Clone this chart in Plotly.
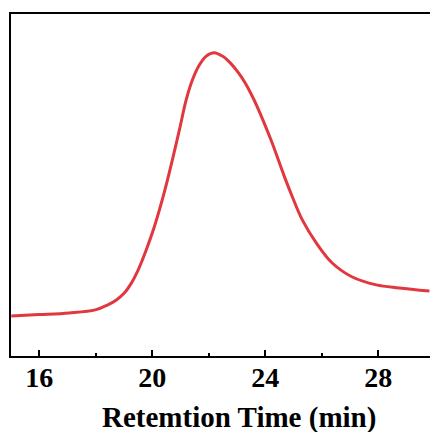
import plotly.graph_objects as go

# Retention time (min) and normalized detector response
retention_time = [15.01, 16.0, 17.06, 17.98, 18.41, 18.73, 19.01, 19.26, 19.47, 19.65,
                  19.86, 20.07, 20.42, 20.71, 20.96, 21.20, 21.42, 21.66, 21.91, 22.19,
                  22.48, 22.76, 23.04, 23.29, 23.50, 23.72, 24.21, 24.67, 24.96, 25.31,
                  25.81, 26.37, 27.08, 27.93, 28.74, 29.81]
response = [0.117, 0.121, 0.126, 0.135, 0.149, 0.164, 0.184, 0.213, 0.246, 0.281,
            0.327, 0.377, 0.477, 0.573, 0.661, 0.749, 0.807, 0.850, 0.877, 0.887,
            0.877, 0.857, 0.829, 0.798, 0.766, 0.728, 0.630, 0.526, 0.465, 0.398,
            0.330, 0.272, 0.231, 0.208, 0.199, 0.190]

tick_vals = [16, 20, 24, 28]
tick_text = ["16", "20", "24", "28"]
x_title = "Retemtion Time (min)"

fig = go.Figure()
fig.add_trace(go.Scatter(
    x=retention_time, y=response, mode="lines",
    line=dict(color="#e0383e", width=3, shape="spline", smoothing=1.0),
    showlegend=False, hoverinfo="skip",
))

font_family = "Liberation Serif, Times New Roman, serif"

fig.update_layout(
    width=430, height=432,
    margin=dict(l=11, r=0, t=14, b=76),
    paper_bgcolor="white", plot_bgcolor="white",
    xaxis=dict(
        range=[15, 29.83],
        showline=True, linecolor="black", linewidth=2, mirror=True,
        showgrid=False, zeroline=False,
        ticks="inside", ticklen=6, tickwidth=2, tickcolor="black",
        tickvals=tick_vals, ticktext=tick_text, ticklabelstandoff=-5,
        tickfont=dict(family=font_family, size=28, color="black", weight="bold"),
        minor=dict(tickvals=[18, 22, 26], ticks="inside", ticklen=3, tickwidth=2, tickcolor="black"),
    ),
    yaxis=dict(
        range=[0, 1],
        showline=True, linecolor="black", linewidth=2, mirror=False,
        showgrid=False, zeroline=False,
        showticklabels=False, ticks="",
    ),
    annotations=[dict(
        text=x_title, xref="paper", yref="paper",
        x=0.543, y=-0.18, xanchor="center", yanchor="middle", showarrow=False,
        font=dict(family=font_family, size=29, color="black", weight="bold"),
    )],
)

fig.write_html("out.html")
